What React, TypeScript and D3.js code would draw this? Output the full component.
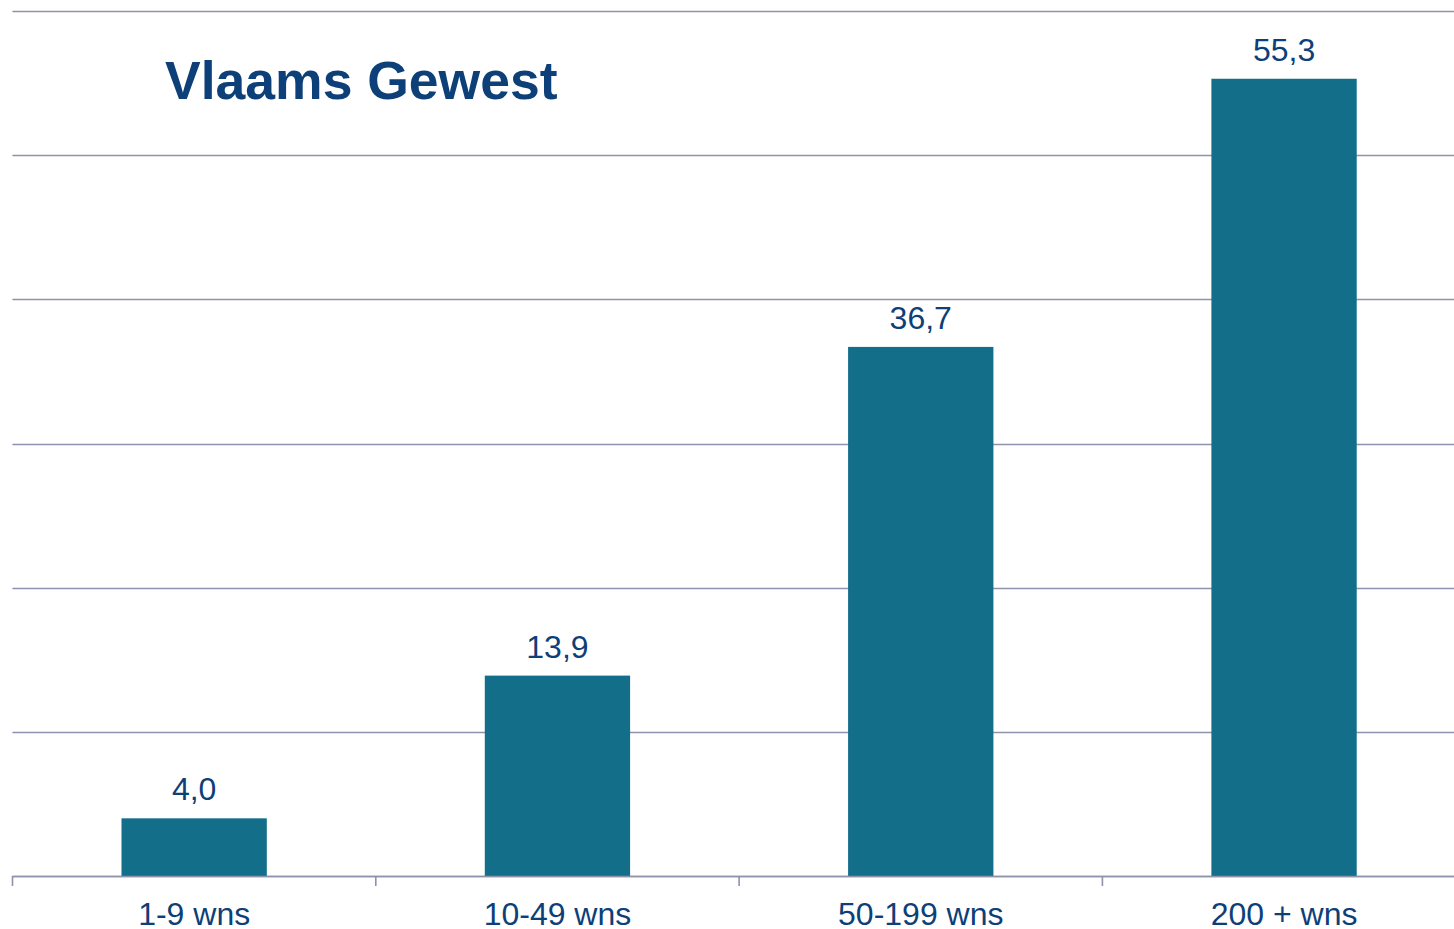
import React from "react";
import * as d3 from "d3";

const categories = ["1-9 wns", "10-49 wns", "50-199 wns", "200 + wns"];
const values = [4.0, 13.9, 36.7, 55.3];
const yTicks = [0, 10, 20, 30, 40, 50, 60];
const title = "Vlaams Gewest";

const W = 1454;
const H = 929;
const left = 12.5;
const step = 363.3;
const right = left + step * categories.length;
const top = 11;
const bottom = 876;

const gridColor = "#8c93ab";
const barColor = "#126e89";
const textColor = "#0d3f78";
const font = "'Liberation Sans', Arial, sans-serif";

export default function App() {
  const x = d3
    .scaleBand<string>()
    .domain(categories)
    .range([left, right])
    .paddingInner(0.6)
    .paddingOuter(0.3);
  const y = d3.scaleLinear().domain([0, 60]).range([bottom, top]);
  const fmt = (v: number) => v.toFixed(1).replace(".", ",");
  const tickXs = categories.map((_, i) => left + i * step);

  return (
    <svg
      width={W}
      height={H}
      style={{ position: "absolute", left: 0, top: 0, background: "#fff" }}
    >
      {yTicks.map((t) => (
        <line
          key={t}
          x1={left}
          x2={W}
          y1={Math.round(y(t)) + 0.5}
          y2={Math.round(y(t)) + 0.5}
          stroke={gridColor}
          strokeWidth={1.6}
        />
      ))}
      {categories.map((c, i) => (
        <rect
          key={c}
          x={x(c)!}
          y={y(values[i])}
          width={x.bandwidth()}
          height={bottom - y(values[i])}
          fill={barColor}
        />
      ))}
      <line x1={left} x2={W} y1={bottom + 0.5} y2={bottom + 0.5} stroke={gridColor} strokeWidth={1.6} />
      {tickXs.map((tx, i) => (
        <line key={i} x1={tx} x2={tx} y1={bottom} y2={bottom + 10} stroke={gridColor} strokeWidth={1.6} />
      ))}
      {categories.map((c, i) => (
        <text
          key={"v" + c}
          x={x(c)! + x.bandwidth() / 2}
          y={y(values[i]) - 18}
          textAnchor="middle"
          fontFamily={font}
          fontSize={32}
          fill={textColor}
        >
          {fmt(values[i])}
        </text>
      ))}
      {categories.map((c) => (
        <text
          key={"c" + c}
          x={x(c)! + x.bandwidth() / 2}
          y={925}
          textAnchor="middle"
          fontFamily={font}
          fontSize={32}
          fill={textColor}
        >
          {c}
        </text>
      ))}
      <text x={165} y={99} fontFamily={font} fontWeight="bold" fontSize={53.5} fill={textColor}>
        {title}
      </text>
    </svg>
  );
}
